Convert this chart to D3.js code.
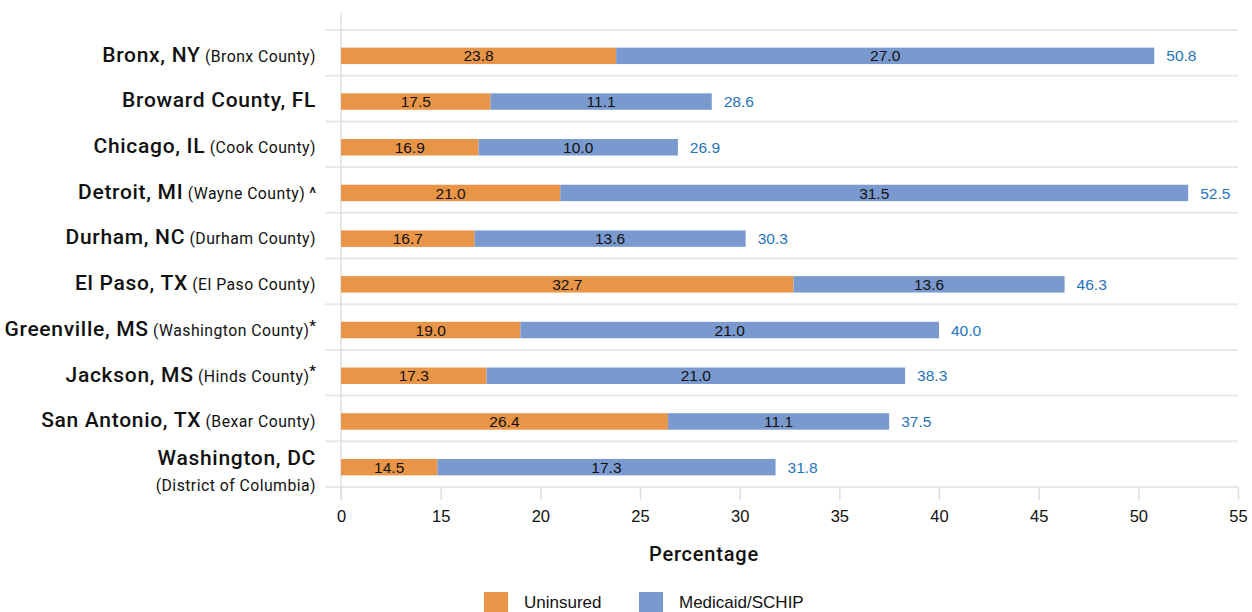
<!DOCTYPE html>
<html>
<head>
<meta charset="utf-8">
<script src="https://cdn.jsdelivr.net/npm/d3@7"></script>
<style>
  html, body { margin: 0; padding: 0; background: #fff; }
  svg { display: block; font-family: "Liberation Sans", Arial, Helvetica, sans-serif; }
  .cat { font-family: Roboto, "Liberation Sans", Arial, sans-serif; }
</style>
</head>
<body>
<svg id="chart" width="1252" height="612"></svg>
<script>
// Area names, county names and footnote markers
const cities = ["Bronx, NY", "Broward County, FL", "Chicago, IL", "Detroit, MI", "Durham, NC",
                "El Paso, TX", "Greenville, MS", "Jackson, MS", "San Antonio, TX", "Washington, DC"];
const counties = ["(Bronx County)", "", "(Cook County)", "(Wayne County)", "(Durham County)",
                  "(El Paso County)", "(Washington County)", "(Hinds County)", "(Bexar County)", "(District of Columbia)"];
const markers = ["", "", "", "^", "", "", "*", "*", "", ""];

// Percent of children by coverage type
const uninsured = [23.8, 17.5, 16.9, 21.0, 16.7, 32.7, 19.0, 17.3, 26.4, 14.5];
const medicaid  = [27.0, 11.1, 10.0, 31.5, 13.6, 13.6, 21.0, 21.0, 11.1, 17.3];
const totals    = [50.8, 28.6, 26.9, 52.5, 30.3, 46.3, 40.0, 38.3, 37.5, 31.8];

// Axis tick values (broken axis: 0 then 15 onward)
const tickValues = [0, 15, 20, 25, 30, 35, 40, 45, 50, 55];

const seriesNames = ["Uninsured", "Medicaid/SCHIP"];
const colors = ["#E99547", "#7A9ACF"];

const svg = d3.select("#chart");
const plotLeft = 341, plotRight = 1238, plotTop = 30, plotBottom = 487;

// Piecewise linear scale: each tick interval gets equal width
const x = d3.scaleLinear()
  .domain(tickValues)
  .range(tickValues.map((d, i) => plotLeft + i * (plotRight - plotLeft) / (tickValues.length - 1)));

const y = d3.scaleBand()
  .domain(d3.range(cities.length))
  .range([plotTop, plotBottom])
  .paddingInner(0.64)
  .paddingOuter(0.32);

const step = y.step();

// Horizontal row separators
const g = svg.append("g");
for (let i = 0; i <= cities.length; i++) {
  const yy = plotTop + i * step;
  g.append("line")
    .attr("x1", 325).attr("x2", plotRight)
    .attr("y1", yy).attr("y2", yy)
    .attr("stroke", "#e8e8e8").attr("stroke-width", 2);
}

// Vertical axis line
g.append("line")
  .attr("x1", plotLeft).attr("x2", plotLeft)
  .attr("y1", 13).attr("y2", plotBottom + 13)
  .attr("stroke", "#dedede").attr("stroke-width", 1.5);

// Bottom axis
const xAxis = d3.axisBottom(x).tickValues(tickValues).tickSize(13).tickPadding(10).tickFormat(d3.format("d"));
const ax = svg.append("g").attr("transform", `translate(0,${plotBottom})`).call(xAxis);
ax.select(".domain").remove();
ax.selectAll(".tick line").attr("stroke", "#dedede").attr("stroke-width", 1.5);
ax.selectAll(".tick text")
  .attr("fill", "#111")
  .style("font-size", "16.5px")
  .style("font-family", "'Liberation Sans', Arial, sans-serif");

// Stacked bars
const rows = cities.map((c, i) => ({ i, u: uninsured[i], m: medicaid[i], t: totals[i] }));
const bh = y.bandwidth();

const rowG = svg.append("g").selectAll("g").data(rows).join("g");

rowG.append("rect")
  .attr("x", x(0))
  .attr("y", d => y(d.i) + 3)
  .attr("width", d => x(d.u) - x(0))
  .attr("height", bh)
  .attr("fill", colors[0]);

rowG.append("rect")
  .attr("x", d => x(d.u))
  .attr("y", d => y(d.i) + 3)
  .attr("width", d => x(d.u + d.m) - x(d.u))
  .attr("height", bh)
  .attr("fill", colors[1]);

rowG.append("text")
  .attr("x", d => (x(0) + x(d.u)) / 2)
  .attr("y", d => y(d.i) + 3 + bh / 2)
  .attr("dy", "0.36em")
  .attr("text-anchor", "middle")
  .attr("fill", "#111")
  .style("font-size", "15.5px")
  .text(d => d.u.toFixed(1));

rowG.append("text")
  .attr("x", d => (x(d.u) + x(d.u + d.m)) / 2)
  .attr("y", d => y(d.i) + 3 + bh / 2)
  .attr("dy", "0.36em")
  .attr("text-anchor", "middle")
  .attr("fill", "#111")
  .style("font-size", "15.5px")
  .text(d => d.m.toFixed(1));

rowG.append("text")
  .attr("x", d => x(d.t) + 12)
  .attr("y", d => y(d.i) + 3 + bh / 2)
  .attr("dy", "0.36em")
  .attr("fill", "#1f74bd")
  .style("font-size", "15.5px")
  .text(d => d.t.toFixed(1));

// Category labels
const lab = svg.append("g").attr("class", "cat");
cities.forEach((c, i) => {
  const cy = y(i) + 3 + bh / 2;
  const twoLine = i === cities.length - 1;
  const t = lab.append("text")
    .attr("x", 316)
    .attr("y", twoLine ? cy - 8 : cy)
    .attr("dy", "0.36em")
    .attr("text-anchor", "end")
    .attr("fill", "#111");
  t.append("tspan").style("font-size", "21px").style("font-weight", "500")
    .style("letter-spacing", "0.7px").text(c);
  if (!twoLine && counties[i]) {
    t.append("tspan").style("font-size", "15.8px").style("font-weight", "400")
      .style("letter-spacing", "0.45px").text(" " + counties[i]);
  }
  if (markers[i] === "^") {
    t.append("tspan").style("font-size", "16px").style("font-weight", "500").text(" ^");
  } else if (markers[i] === "*") {
    t.append("tspan").style("font-size", "15px").style("font-weight", "500").attr("dy", "-0.35em").text("*");
  }
  if (twoLine) {
    lab.append("text")
      .attr("x", 316)
      .attr("y", cy + 18)
      .attr("dy", "0.36em")
      .attr("text-anchor", "end")
      .attr("fill", "#111")
      .style("font-size", "15.8px")
      .style("font-weight", "400")
      .style("letter-spacing", "0.45px")
      .text(counties[i]);
  }
});

// Axis title
svg.append("text")
  .attr("class", "cat")
  .attr("x", 704)
  .attr("y", 561)
  .attr("text-anchor", "middle")
  .attr("fill", "#111")
  .style("font-size", "20px")
  .style("font-weight", "500")
  .style("letter-spacing", "0.8px")
  .text("Percentage");

// Legend
const legendX = [484, 639];
seriesNames.forEach((s, i) => {
  svg.append("rect")
    .attr("x", legendX[i]).attr("y", 592)
    .attr("width", 24).attr("height", 22)
    .attr("fill", colors[i]);
  svg.append("text")
    .attr("x", legendX[i] + 40).attr("y", 608)
    .attr("fill", "#111")
    .style("font-size", "17px")
    .text(s);
});
</script>
</body>
</html>
